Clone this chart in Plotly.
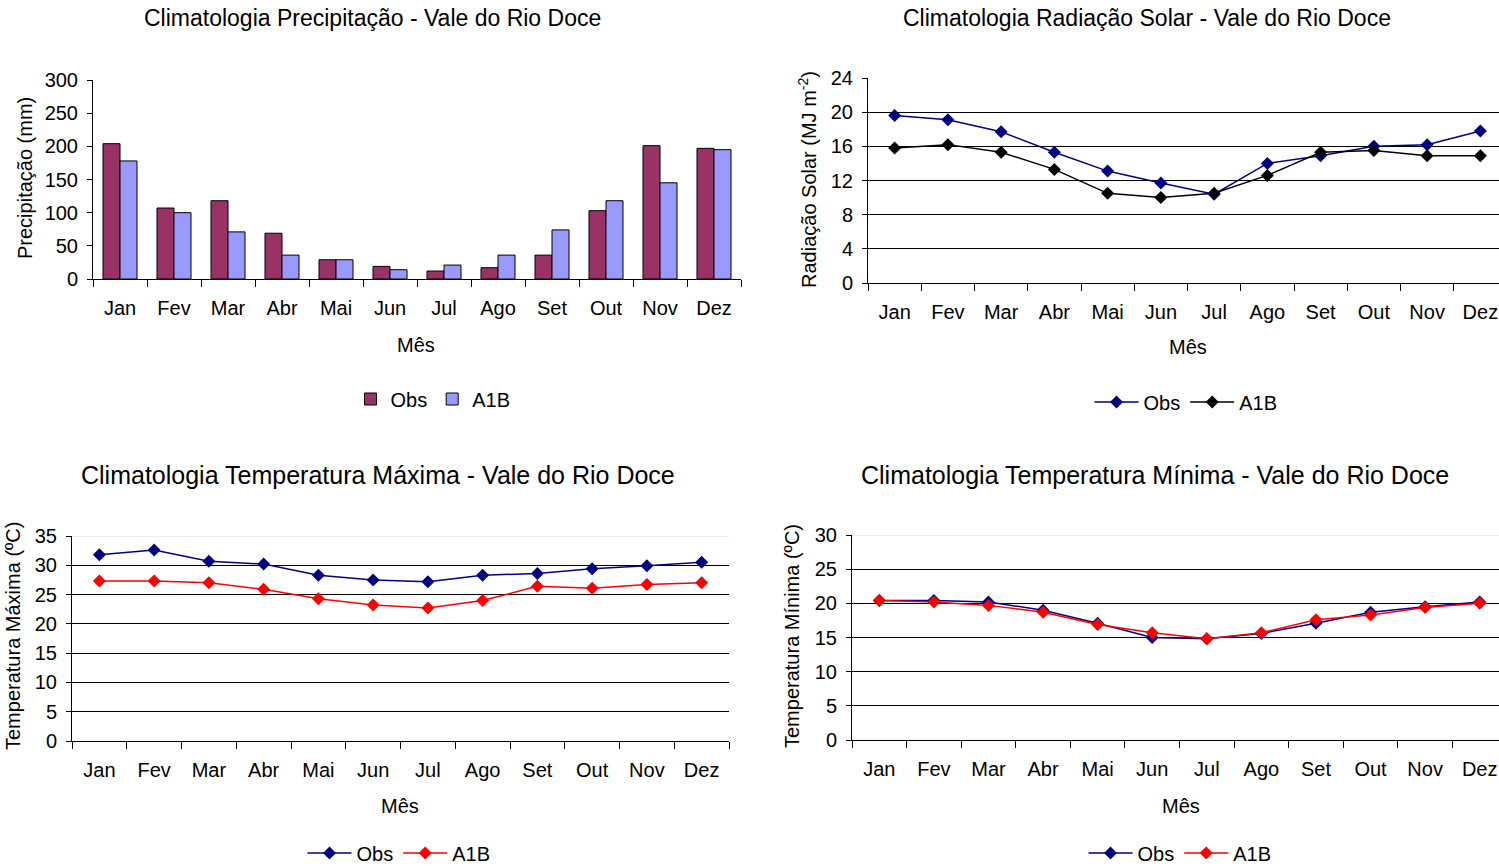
import plotly.graph_objects as go

months = ["Jan", "Fev", "Mar", "Abr", "Mai", "Jun", "Jul", "Ago", "Set", "Out", "Nov", "Dez"]

prec_obs = [204, 107, 118, 69, 29, 19, 12, 17, 36, 103, 201, 197]
prec_a1b = [178, 100, 71, 36, 29, 14, 21, 36, 74, 118, 145, 195]

rad_obs = [19.6, 19.1, 17.7, 15.3, 13.1, 11.7, 10.4, 14.0, 14.9, 16.0, 16.2, 17.8]
rad_a1b = [15.8, 16.2, 15.3, 13.3, 10.5, 10.0, 10.5, 12.6, 15.3, 15.5, 14.9, 14.9]

tmax_obs = [31.8, 32.6, 30.7, 30.2, 28.3, 27.5, 27.2, 28.3, 28.6, 29.4, 29.9, 30.5]
tmax_a1b = [27.3, 27.3, 27.0, 25.9, 24.3, 23.2, 22.7, 24.0, 26.4, 26.1, 26.7, 27.0]

tmin_obs = [20.4, 20.4, 20.2, 19.0, 17.1, 15.0, 14.8, 15.6, 17.1, 18.7, 19.5, 20.2]
tmin_a1b = [20.4, 20.2, 19.7, 18.7, 16.9, 15.7, 14.8, 15.7, 17.6, 18.3, 19.4, 20.0]

FONT = "Arial, Liberation Sans, sans-serif"
W, H = 1499, 866
OFF = 0  # body margin removed by post_script

fig = go.Figure()

# Panel 1: bars
fig.add_trace(go.Bar(x=months, y=prec_obs, name="Obs", marker=dict(color="#993366", line=dict(color="black", width=1)),
                     xaxis="x", yaxis="y", legend="legend"))
fig.add_trace(go.Bar(x=months, y=prec_a1b, name="A1B", marker=dict(color="#9999FF", line=dict(color="black", width=1)),
                     xaxis="x", yaxis="y", legend="legend"))

def line(x, y, name, color, xa, ya, leg):
    return go.Scatter(x=x, y=y, name=name, mode="lines+markers",
                      line=dict(color=color, width=1.5),
                      marker=dict(symbol="diamond", size=10, color=color),
                      xaxis=xa, yaxis=ya, legend=leg)

fig.add_trace(line(months, rad_obs, "Obs", "#000080", "x2", "y2", "legend2"))
fig.add_trace(line(months, rad_a1b, "A1B", "#000000", "x2", "y2", "legend2"))
fig.add_trace(line(months, tmax_obs, "Obs", "#000080", "x3", "y3", "legend3"))
fig.add_trace(line(months, tmax_a1b, "A1B", "#FF0000", "x3", "y3", "legend3"))
fig.add_trace(line(months, tmin_obs, "Obs", "#000080", "x4", "y4", "legend4"))
fig.add_trace(line(months, tmin_a1b, "A1B", "#FF0000", "x4", "y4", "legend4"))

def px_x(v):
    return (v - OFF) / W

def px_y(v):
    return 1 - (v - OFF) / H

tickfont = dict(family=FONT, size=20, color="black")

def xaxis(l, r, anchor):
    return dict(domain=[max(0, px_x(l)), min(1, px_x(r))], anchor=anchor, type="category",
                range=[-0.5, len(months) - 0.5],
                showline=True, linecolor="black", linewidth=1,
                ticks="outside", tickson="boundaries", ticklen=7, tickcolor="black",
                ticklabelstandoff=11,
                showgrid=False, tickfont=tickfont, fixedrange=True)

def yaxis(t, b, anchor, rng, dtick, grid):
    return dict(domain=[px_y(b), px_y(t)], anchor=anchor, range=rng, dtick=dtick,
                showline=True, linecolor="black", linewidth=1,
                ticks="outside", ticklen=5, tickcolor="black",
                ticklabelstandoff=5,
                showgrid=grid, gridcolor="black", gridwidth=1,
                zeroline=False, tickfont=tickfont, fixedrange=True)

legfont = dict(family=FONT, size=20, color="black")

def legend(xc, yc, iw):
    return dict(x=px_x(xc), y=px_y(yc), xanchor="center", yanchor="middle",
                orientation="h", font=legfont, bgcolor="rgba(0,0,0,0)",
                itemwidth=iw, tracegroupgap=0)

annotations = []

def ann(text, xc, yc, size, angle=0):
    annotations.append(dict(text=text, x=px_x(xc), y=px_y(yc), xref="paper", yref="paper",
                            showarrow=False, xanchor="center", yanchor="middle",
                            textangle=angle, font=dict(family=FONT, size=size, color="black")))

ann("Climatologia Precipitação - Vale do Rio Doce", 372, 18, 23)
ann("Climatologia Radiação Solar - Vale do Rio Doce", 1147, 18, 23)
ann("Climatologia Temperatura Máxima - Vale do Rio Doce", 378, 475, 25)
ann("Climatologia Temperatura Mínima - Vale do Rio Doce", 1155, 475, 25)
ann("Mês", 416, 345, 20)
ann("Mês", 1188, 347, 20)
ann("Mês", 400, 806, 20)
ann("Mês", 1181, 806, 20)
ann("Precipitação (mm)", 25, 178, 20, -90)
ann("Radiação Solar (MJ m<sup>-2</sup>)", 808, 180, 20, -90)
ann("Temperatura Máxima (ºC)", 13, 636, 20, -90)
ann("Temperatura Mínima (ºC)", 792, 636, 20, -90)

# light top border lines (as in the reference's plot-area frame)
shapes = [
    dict(type="line", xref="x3 domain", yref="y3", x0=0, x1=1, y0=35, y1=35,
         line=dict(color="#dcdcdc", width=1), layer="below"),
    dict(type="line", xref="x4 domain", yref="y4", x0=0, x1=1, y0=30, y1=30,
         line=dict(color="#dcdcdc", width=1), layer="below"),
]

fig.update_layout(
    width=W, height=H,
    margin=dict(l=0, r=0, t=0, b=0, autoexpand=False),
    paper_bgcolor="white", plot_bgcolor="white",
    font=dict(family=FONT, color="black"),
    barmode="group", bargap=0.37, bargroupgap=0,
    xaxis=xaxis(93, 741, "y"),
    yaxis=yaxis(80, 279, "x", [0, 300], 50, False),
    xaxis2=xaxis(868, 1499, "y2"),
    yaxis2=yaxis(78, 283, "x2", [0, 24], 4, True),
    xaxis3=xaxis(72, 729, "y3"),
    yaxis3=yaxis(536, 741, "x3", [0, 35], 5, True),
    xaxis4=xaxis(852, 1499, "y4"),
    yaxis4=yaxis(535, 740, "x4", [0, 30], 5, True),
    legend=legend(433, 399, 30),
    legend2=legend(1186, 402, 44),
    legend3=legend(399, 853, 44),
    legend4=legend(1180, 853, 44),
    annotations=annotations,
    shapes=shapes,
    showlegend=True,
)

# Right-hand panels run slightly past the visible page edge in the reference;
# widen the figure so their plot areas extend beyond the viewport.
EXTRA = 8
fig.update_layout(width=W + EXTRA)
scale = W / (W + EXTRA)
for ax in ["xaxis", "xaxis3"]:
    d = fig.layout[ax].domain
    fig.layout[ax].domain = [d[0] * scale, d[1] * scale]
for ax in ["xaxis2", "xaxis4"]:
    d = fig.layout[ax].domain
    fig.layout[ax].domain = [d[0] * scale, 1.0]
for a in fig.layout.annotations:
    a.x = a.x * scale
for lg in ["legend", "legend2", "legend3", "legend4"]:
    fig.layout[lg].x = fig.layout[lg].x * scale

fig.write_html("out.html", config={"displayModeBar": False},
               post_script="document.body.style.margin='0';document.body.style.overflow='hidden';")
